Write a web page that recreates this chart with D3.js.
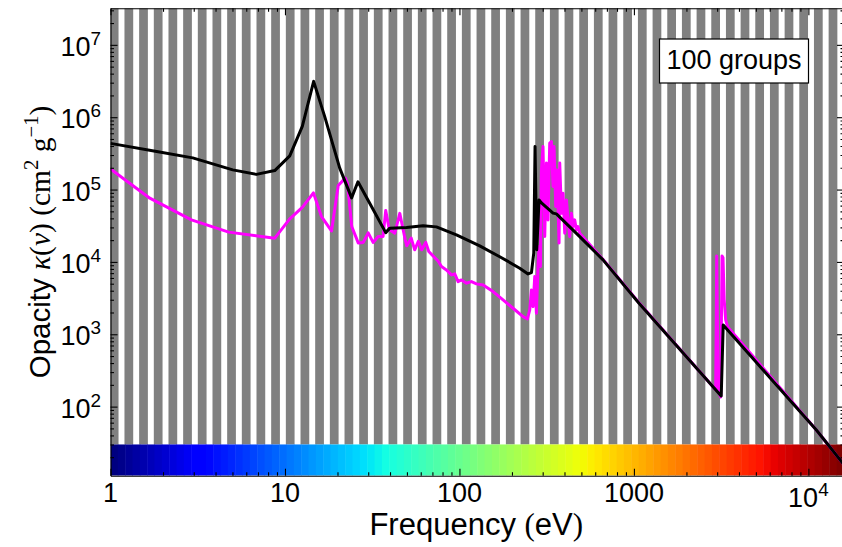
<!DOCTYPE html>
<html>
<head>
<meta charset="utf-8">
<script src="https://cdn.jsdelivr.net/npm/d3@7"></script>
<style>
  body { margin: 0; background: #fff; }
  svg text { font-family: "Liberation Sans", sans-serif; fill: #000; }
</style>
</head>
<body>
<svg id="chart"></svg>
<script>
let width = 842;
let height = 547;
let plotLeft = 110.5, plotRight = 844, plotTop = 8.3, plotBottom = 475.7;
let fontSize = 27;

// energy grid
const nGroups = 100;
const eMin = 1, eMax = 1.6e4;
const kMin = 11.1, kMax = 3.2e7;
const barTop = 30;   // colour bar reaches up to this opacity

// group-averaged opacity (black)
const blackEnergy = [1, 1.84, 2.96, 5.02, 6.85, 8.74, 10.65, 12.57, 14.6, 16.9, 20.6, 24.1, 26.2, 30.6,
  37.8, 39.9, 49.7, 61.9, 73.8, 96.1, 130.7, 170.2, 221.6, 247.3, 258.6, 266.6, 271.2, 277.3,
  285.9, 295.1, 343.9, 359.6, 489.1, 665.3, 1069, 3165, 3249, 11110, 16000];
const blackOpacity = [4.35e5, 3.35e5, 2.74e5, 1.87e5, 1.62e5, 1.83e5, 2.92e5, 7.47e5, 3.13e6, 1.02e6, 1.98e5, 7.67e4, 1.28e5, 6.48e4,
  2.54e4, 2.93e4, 2.98e4, 3.15e4, 3.05e4, 2.36e4, 1.665e4, 1.18e4, 8.19e3, 6.83e3, 7.12e3, 1.32e4, 3.93e5, 1.47e4,
  7.2e4, 6.55e4, 4.72e4, 4.61e4, 2.24e4, 1.067e4, 2.69e3, 140.6, 1346, 47.6, 15.7];

// detailed opacity (magenta)
const magentaEnergy = [1, 1.68, 2.91, 4.76, 8.74, 10.65, 12.57, 14.56, 16.19, 18.48, 20.2, 22.16, 22.8, 24.14,
  26.3, 28.1, 30.0, 32.0, 34.2, 36.5, 37.8, 39.6, 42.6, 45.5, 48.9, 49.9, 52.9, 55.4, 58.1, 60.8, 64.1, 66.7,
  75.4, 78.9, 84.2, 90.0, 94.0, 98.2, 102.7, 109.7, 117.2, 125.2, 136.6, 155.8, 177.8, 202.9, 231.5, 245.3,
  252.9, 258.6, 264.1, 270.1, 276.2, 282.1, 285.9, 291.2, 295.1, 301.3, 308.2, 315.2, 321.9, 329.2, 336.7,
  343.9, 348.5, 356.4, 362.5, 372.3, 375.7, 384.2, 392.4, 401.3, 410.4, 419.1, 428.6, 438.3, 447.7, 457.8,
  468.2, 478.2, 489.1, 665.3, 1069, 2943, 2982, 3041, 3145, 3199, 3241, 3292, 3357, 3447, 11110, 16000];
const magentaOpacity = [1.93e5, 7.6e4, 3.81e4, 2.58e4, 2.13e4, 3.93e4, 5.67e4, 9.0e4, 4.23e4, 2.68e4, 1.14e5, 1.44e5, 1.22e5, 3.08e4,
  1.83e4, 1.86e4, 2.52e4, 1.86e4, 2.24e4, 2.25e4, 5.15e4, 2.81e4, 2.49e4, 4.69e4, 2.02e4, 1.67e4, 2.13e4, 1.47e4, 1.92e4, 1.47e4, 1.86e4, 1.39e4,
  1.03e4, 8.62e3, 7.76e3, 6.62e3, 6.83e3, 5.35e3, 5.64e3, 5.08e3, 5.35e3, 4.97e3, 4.81e3, 3.89e3, 2.99e3, 2.29e3, 1.75e3, 1.63e3,
  2.17e3, 4.1e3, 2.41e3, 6.27e3, 1.95e3, 8.62e3, 1.63e4, 8.62e3, 1.87e5, 3.93e5, 2.24e4, 2.32e5, 3.81e4, 4.38e5, 4.6e5,
  1.1e5, 3.93e5, 5.82e4, 1.87e5, 1.82e4, 2.32e5, 4.72e4, 8.91e4, 2.49e4, 7.2e4, 3.81e4, 2.24e4, 4.72e4, 3.08e4, 3.81e4,
  2.77e4, 3.08e4, 2.49e4, 1.08e4, 2.72e3, 171, 1.21e4, 160, 136, 1.21e4, 1.14e4, 3.0e3, 1.58e3, 1.26e3, 47.6, 15.7];

const xTicks = [1, 10, 100, 1000, 1e4];
const xTickLabels = [["1"], ["10"], ["100"], ["1000"], ["10", "4"]];
const yTicks = [1e2, 1e3, 1e4, 1e5, 1e6, 1e7];
const yTickLabels = [["10", "2"], ["10", "3"], ["10", "4"], ["10", "5"], ["10", "6"], ["10", "7"]];
const legendText = "100 groups";

let svg = d3.select('#chart')
  .attr('width', width)
  .attr('height', height);

svg.append('rect').attr('width', width).attr('height', height).attr('fill', 'white');

let xax = d3.scaleLog()
  .domain([eMin, eMax])
  .range([plotLeft, plotRight]);

let yax = d3.scaleLog()
  .domain([kMin, kMax])
  .range([plotBottom, plotTop]);

svg.append('clipPath').attr('id', 'plotclip')
  .append('rect')
  .attr('x', plotLeft).attr('y', plotTop)
  .attr('width', plotRight - plotLeft).attr('height', plotBottom - plotTop);

let plot = svg.append('g').attr('clip-path', 'url(#plotclip)');

// group boundaries, equally spaced in log energy
let edges = d3.range(nGroups + 1).map(i => eMin * Math.pow(eMax / eMin, i / nGroups));
let groups = d3.range(nGroups).map(i => ({i: i, lo: edges[i], hi: edges[i + 1]}));

// alternating grey bands
plot.append('g')
  .selectAll('rect')
  .data(groups.filter(d => d.i % 2 === 0))
  .join('rect')
    .attr('x', d => xax(d.lo) - 0.7)
    .attr('width', d => xax(d.hi) - xax(d.lo) + 1.4)
    .attr('y', yax(kMax))
    .attr('height', yax(barTop) - yax(kMax))
    .attr('fill', '#808080');

// jet colour map
let jetR = d3.scaleLinear().domain([0, 0.35, 0.66, 0.89, 1]).range([0, 0, 1, 1, 0.5]);
let jetG = d3.scaleLinear().domain([0, 0.125, 0.375, 0.64, 0.91, 1]).range([0, 0, 1, 1, 0, 0]);
let jetB = d3.scaleLinear().domain([0, 0.11, 0.34, 0.65, 1]).range([0.5, 1, 1, 0, 0]);
function jet(t) {
  return d3.rgb(255 * jetR(t), 255 * jetG(t), 255 * jetB(t)).formatHex();
}

plot.append('g')
  .selectAll('rect')
  .data(groups)
  .join('rect')
    .attr('x', d => xax(d.lo))
    .attr('width', d => xax(d.hi) - xax(d.lo) + 0.5)
    .attr('y', yax(barTop))
    .attr('height', yax(kMin) - yax(barTop))
    .attr('fill', d => jet(d.i / (nGroups - 1)));

let line = d3.line()
  .x(d => xax(d[0]))
  .y(d => yax(d[1]));

plot.append('path')
  .attr('d', line(d3.zip(magentaEnergy, magentaOpacity)))
  .attr('fill', 'none')
  .attr('stroke', '#ff00ff')
  .attr('stroke-width', 3)
  .attr('stroke-linejoin', 'round');

plot.append('path')
  .attr('d', line(d3.zip(blackEnergy, blackOpacity)))
  .attr('fill', 'none')
  .attr('stroke', 'black')
  .attr('stroke-width', 3)
  .attr('stroke-linejoin', 'round');

// ticks (inward, on all four sides)
function minorTicks(lo, hi) {
  let out = [];
  for (let p = Math.floor(Math.log10(lo)); p <= Math.ceil(Math.log10(hi)); p++) {
    for (let m = 2; m <= 9; m++) {
      let v = m * Math.pow(10, p);
      if (v > lo && v < hi) out.push(v);
    }
  }
  return out;
}

function drawTicks(axisFn, scale, majors, minors, transform) {
  let g = svg.append('g').attr('transform', transform);
  g.call(axisFn(scale).tickValues(majors).tickSize(-7).tickSizeOuter(0).tickFormat(''));
  g.append('g').call(axisFn(scale).tickValues(minors).tickSize(-3.5).tickSizeOuter(0).tickFormat(''))
    .call(s => s.select('.domain').remove());
  g.selectAll('path, line').attr('stroke', 'black').attr('stroke-width', 1.1);
}

drawTicks(d3.axisBottom, xax, xTicks, minorTicks(eMin, eMax), `translate(0,${plotBottom})`);
drawTicks(d3.axisTop, xax, xTicks, minorTicks(eMin, eMax), `translate(0,${plotTop})`);
drawTicks(d3.axisLeft, yax, yTicks, minorTicks(kMin, kMax), `translate(${plotLeft},0)`);
drawTicks(d3.axisRight, yax, yTicks, minorTicks(kMin, kMax), `translate(${plotRight},0)`);

// tick labels
function tickLabel(sel, parts) {
  sel.append('tspan').text(parts[0]);
  if (parts.length > 1) {
    sel.append('tspan').attr('font-size', fontSize * 0.7).attr('dy', -11).text(parts[1]);
  }
}

xTicks.forEach((v, i) => {
  let t = svg.append('text')
    .attr('x', xax(v))
    .attr('y', xTickLabels[i].length > 1 ? 506.5 : 501.5)
    .attr('text-anchor', 'middle')
    .attr('font-size', fontSize);
  tickLabel(t, xTickLabels[i]);
});

yTicks.forEach((v, i) => {
  let t = svg.append('text')
    .attr('x', 101)
    .attr('y', yax(v) + 11)
    .attr('text-anchor', 'end')
    .attr('font-size', fontSize);
  tickLabel(t, yTickLabels[i]);
});

// axis titles
let xt = svg.append('text')
  .attr('x', (plotLeft + 842) / 2)
  .attr('y', 535)
  .attr('text-anchor', 'middle')
  .attr('font-size', 31);
xt.append('tspan').text('Frequency ');
xt.append('tspan').attr('font-family', 'Liberation Serif').text('(');
xt.append('tspan').text('eV');
xt.append('tspan').attr('font-family', 'Liberation Serif').text(')');

let ySize = 29.5;
let yt = svg.append('text')
  .attr('transform', `translate(50,${(plotTop + plotBottom) / 2}) rotate(-90)`)
  .attr('text-anchor', 'middle')
  .attr('font-size', ySize);
yt.append('tspan').text('Opacity ');
yt.append('tspan').attr('font-family', 'Liberation Serif').attr('font-style', 'italic').text('κ');
yt.append('tspan').attr('font-family', 'Liberation Serif').text('(');
yt.append('tspan').attr('font-family', 'Liberation Serif').attr('font-style', 'italic').text('ν');
yt.append('tspan').attr('font-family', 'Liberation Serif').text(')  (cm');
yt.append('tspan').attr('font-family', 'Liberation Serif').attr('font-size', ySize * 0.7).attr('dy', -12).text('2');
yt.append('tspan').attr('font-family', 'Liberation Serif').attr('dy', 12).text(' g');
yt.append('tspan').attr('font-family', 'Liberation Serif').attr('font-size', ySize * 0.7).attr('dy', -12).text('−1');
yt.append('tspan').attr('font-family', 'Liberation Serif').attr('dy', 12).text(')');

// label box
svg.append('rect')
  .attr('x', 659.5).attr('y', 39)
  .attr('width', 149).attr('height', 44)
  .attr('fill', 'white')
  .attr('stroke', 'black')
  .attr('stroke-width', 1.2);
svg.append('text')
  .attr('x', 734).attr('y', 68.5)
  .attr('text-anchor', 'middle')
  .attr('font-size', fontSize)
  .text(legendText);
</script>
</body>
</html>
